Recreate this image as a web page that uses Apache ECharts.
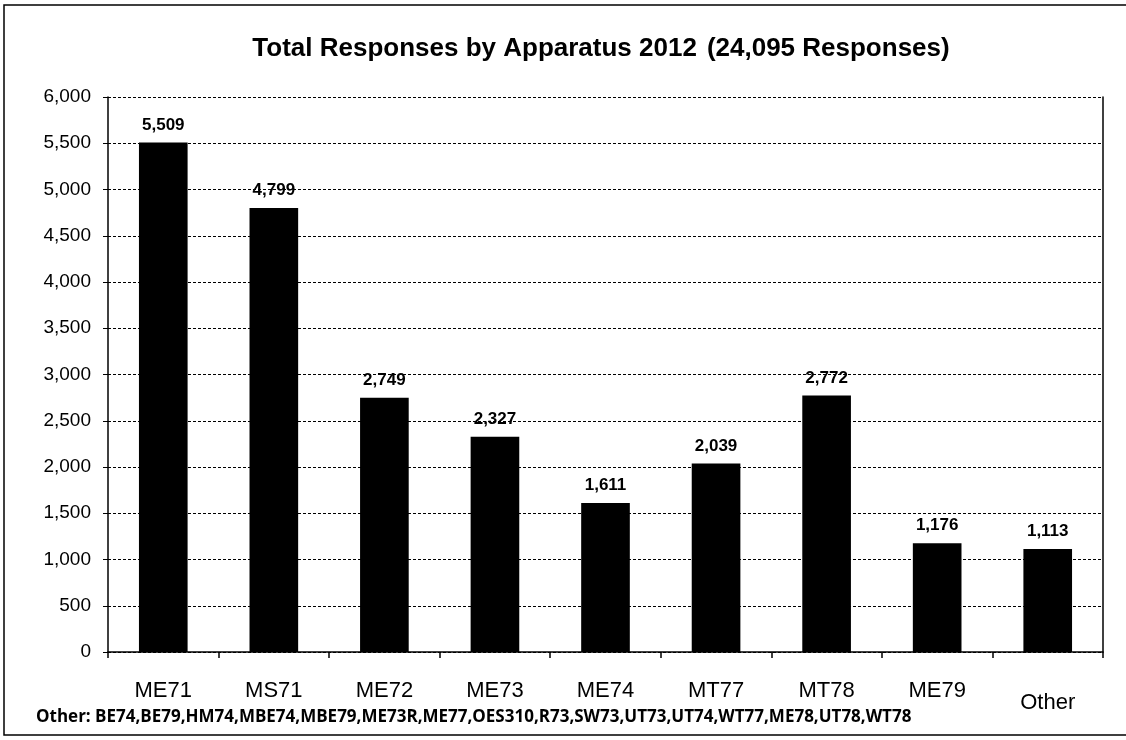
<!DOCTYPE html>
<html>
<head>
<meta charset="utf-8">
<script src="https://cdn.jsdelivr.net/npm/echarts@6/dist/echarts.min.js"></script>
<style>
  html, body { margin: 0; padding: 0; background: #fff; }
  #chart { width: 1126px; height: 740px; }
</style>
</head>
<body>
<div id="chart"></div>
<script>
// Apparatus responses, 2012
const apparatus = ['ME71', 'MS71', 'ME72', 'ME73', 'ME74', 'MT77', 'MT78', 'ME79', 'Other'];
const responses = [5509, 4799, 2749, 2327, 1611, 2039, 2772, 1176, 1113];
const yTicks = [0, 500, 1000, 1500, 2000, 2500, 3000, 3500, 4000, 4500, 5000, 5500, 6000];
const otherUnits = ['BE74', 'BE79', 'HM74', 'MBE74', 'MBE79', 'ME73R', 'ME77', 'OES310', 'R73',
  'SW73', 'UT73', 'UT74', 'WT77', 'ME78', 'UT78', 'WT78'];
const totalResponses = 24095;

const fmt = v => v.toLocaleString('en-US');
const chart = echarts.init(document.getElementById('chart'));

// The catch-all "Other" category label sits a little lower than the rest
const categoryData = apparatus.map(name => name === 'Other'
  ? { value: name, textStyle: { padding: [12, 0, 0, 0] } }
  : name);

chart.setOption({
  backgroundColor: '#fff',
  animation: false,
  title: {
    text: '{b|Total Responses by Apparatus 2012}  {n|(' + fmt(totalResponses) + ' Responses)}',
    left: 596,
    textAlign: 'center',
    top: 31,
    textStyle: {
      rich: {
        b: { fontFamily: 'Liberation Sans, Arial', fontWeight: 'bold', fontSize: 26, color: '#000' },
        n: { fontFamily: 'Liberation Sans, Arial', fontSize: 26, color: '#000' }
      }
    }
  },
  grid: { left: 108, right: 23, top: 97, bottom: 88 },
  xAxis: {
    type: 'category',
    data: categoryData,
    axisLine: { lineStyle: { color: '#000', width: 1.5 } },
    axisTick: { show: true, length: 6, lineStyle: { color: '#000', width: 1.5 } },
    axisLabel: { color: '#000', fontFamily: 'Liberation Sans, Arial', fontSize: 22, margin: 28 }
  },
  yAxis: [{
    type: 'value',
    min: yTicks[0],
    max: yTicks[yTicks.length - 1],
    interval: yTicks[1] - yTicks[0],
    axisLine: { show: true, lineStyle: { color: '#000', width: 1.5 } },
    axisTick: { show: true, length: 5, lineStyle: { color: '#000' } },
    axisLabel: { color: '#000', fontFamily: 'Liberation Sans, Arial', fontSize: 19, margin: 17, formatter: v => fmt(v) },
    splitLine: { show: true, lineStyle: { color: '#000', type: [3, 2], width: 1 } }
  }, {
    type: 'value',
    position: 'right',
    min: yTicks[0],
    max: yTicks[yTicks.length - 1],
    interval: yTicks[1] - yTicks[0],
    axisLine: { show: true, lineStyle: { color: '#000', width: 1.5 } },
    axisTick: { show: false },
    axisLabel: { show: false },
    splitLine: { show: false }
  }],
  series: [{
    type: 'bar',
    data: responses,
    barWidth: '44%',
    itemStyle: { color: '#000' },
    label: {
      show: true,
      position: 'top',
      distance: 9,
      color: '#000',
      fontFamily: 'Liberation Sans, Arial',
      fontWeight: 'bold',
      fontSize: 17,
      formatter: p => fmt(p.value)
    }
  }],
  graphic: [{
    type: 'rect',
    shape: { x: 4, y: 5, width: 1140, height: 730 },
    style: { fill: 'none', stroke: '#000', lineWidth: 1.5 },
    silent: true
  }, {
    type: 'text',
    left: 36,
    top: 709,
    style: {
      text: 'Other: ' + otherUnits.join(','),
      fill: '#000',
      fontFamily: 'Open Sans, DejaVu Sans, sans-serif',
      fontWeight: 'bold',
      fontSize: 17
    }
  }]
});
</script>
</body>
</html>
